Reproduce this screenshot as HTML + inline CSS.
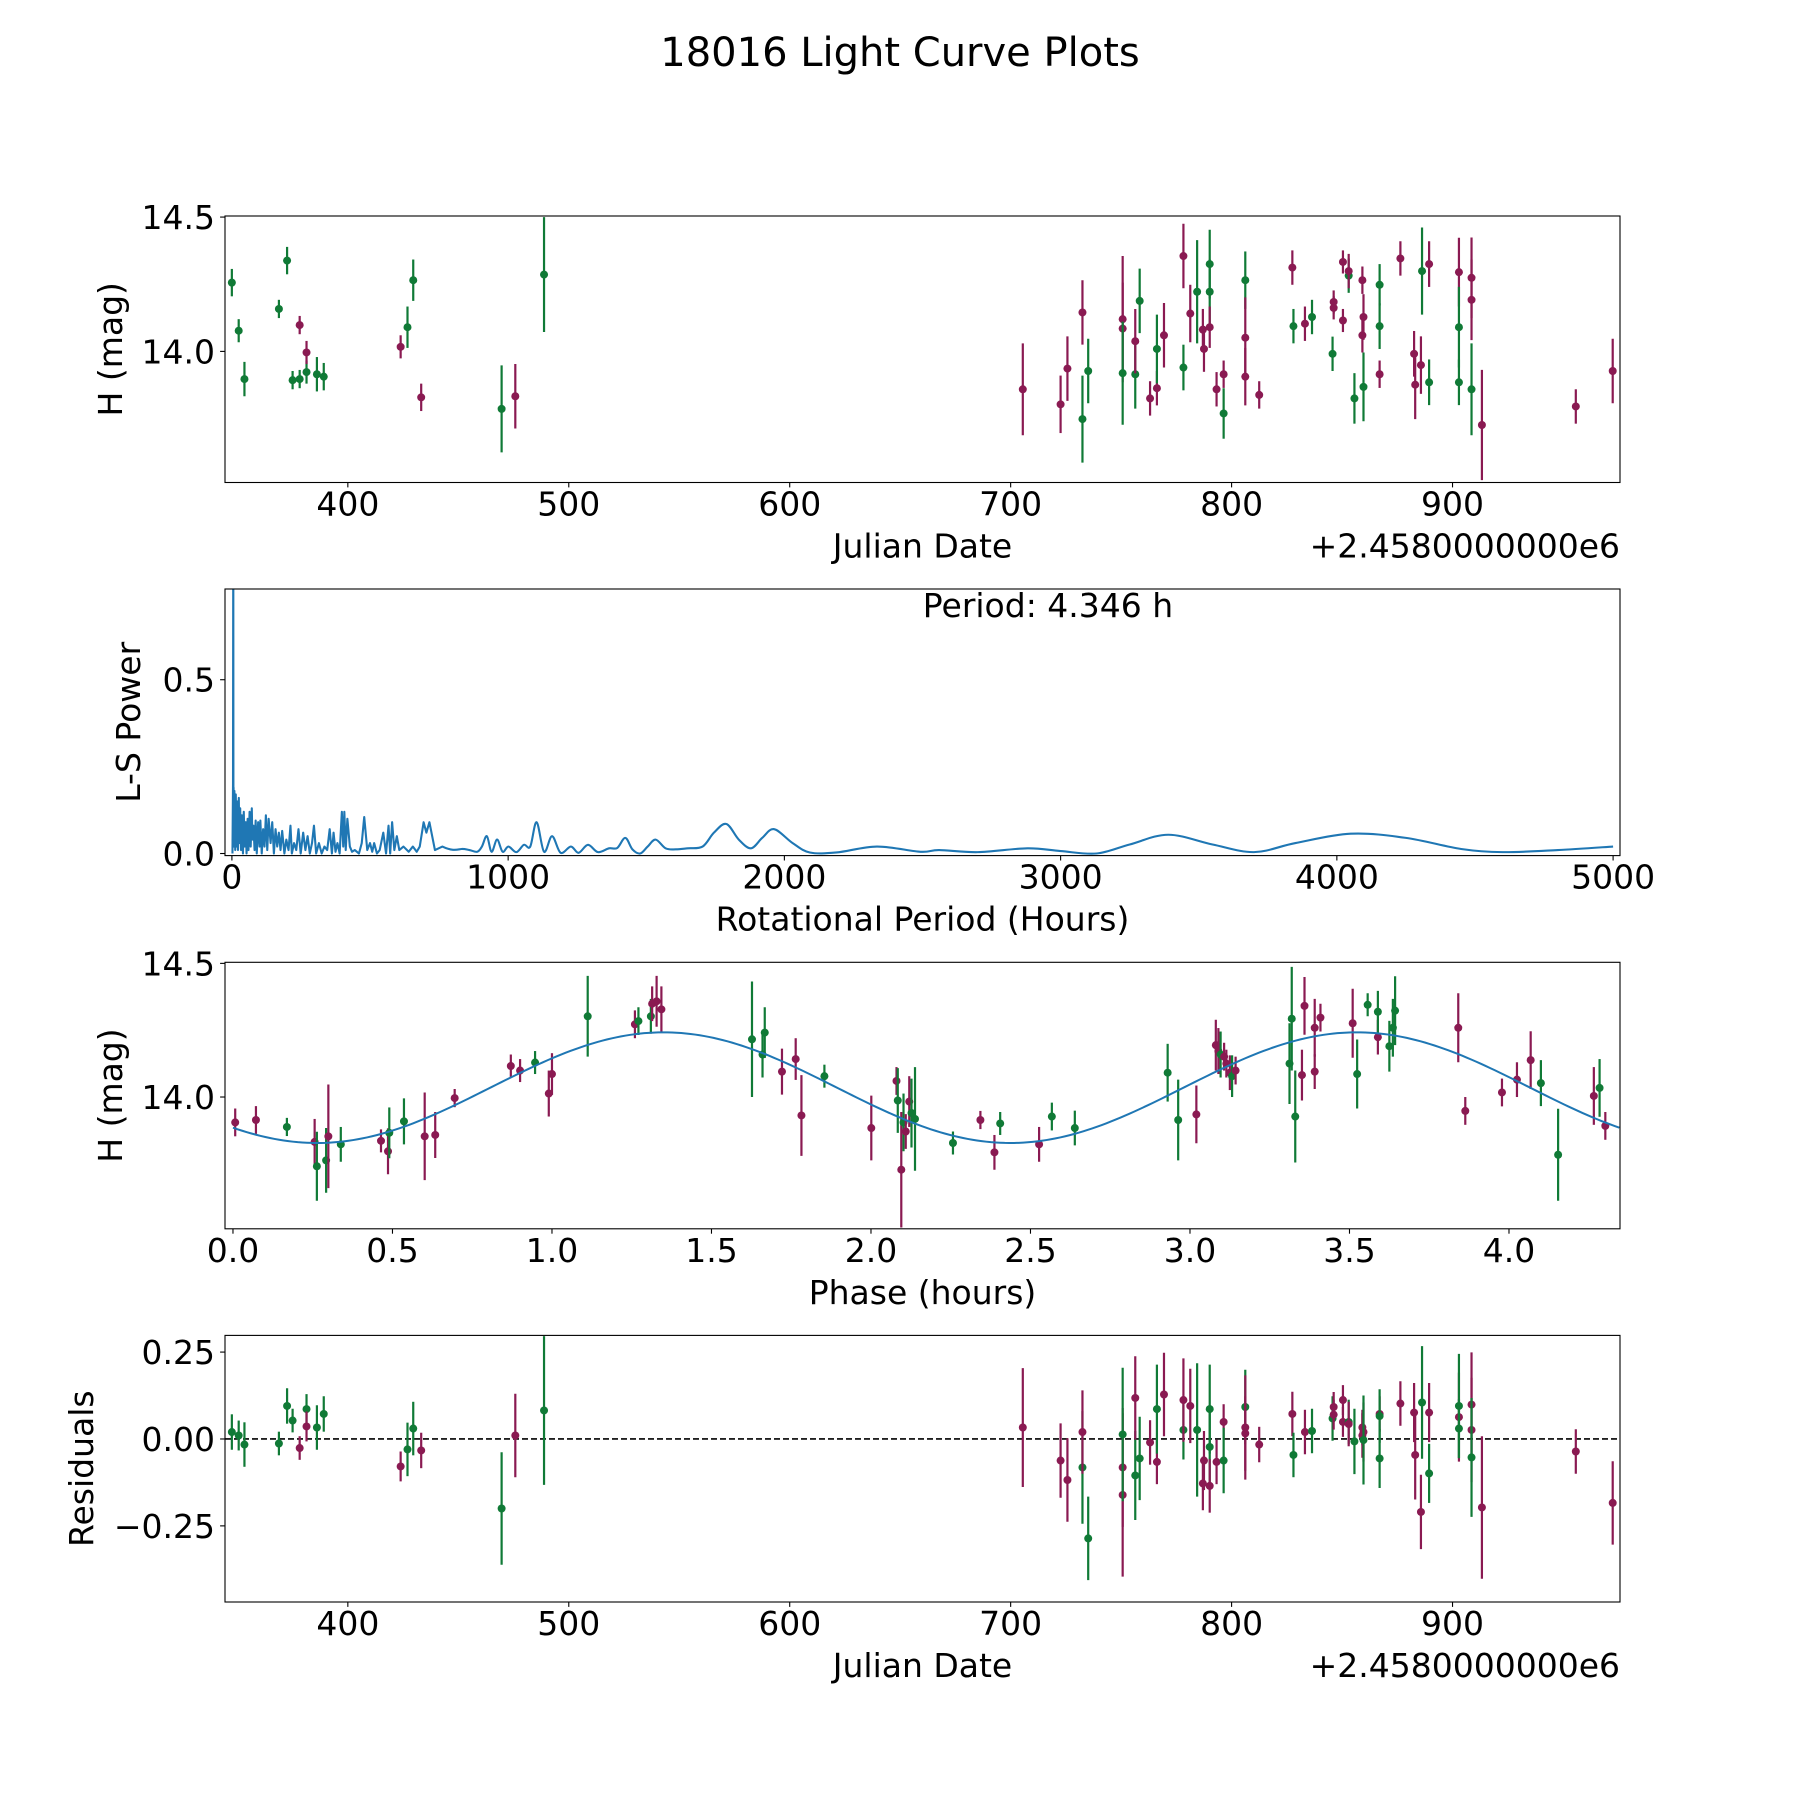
<!DOCTYPE html>
<html><head><meta charset="utf-8"><title>18016 Light Curve Plots</title>
<style>
html,body{margin:0;padding:0;background:#fff;}
svg{display:block;font-family:"DejaVu Sans","Liberation Sans",sans-serif;}
</style></head>
<body>
<svg id="fig" width="1800" height="1800" viewBox="0 0 1800 1800" xmlns="http://www.w3.org/2000/svg">
<rect width="1800" height="1800" fill="#fff"/>
<text x="900" y="66" font-size="40" text-anchor="middle">18016 Light Curve Plots</text>
</svg>
<script>
// ---------- Panel 1 / 4 data (Julian date - 2458000) ----------
const jd = [347.5,350.6,353.2,368.8,372.5,375,378.2,378.2,381.3,381.3,386,389.1,423.9,427,429.6,433.2,469.6,475.8,488.8,
705.5,722.6,725.7,732.5,732.5,735.1,750.7,750.7,750.7,756.4,756.4,758.4,763.1,766.2,766.2,769.4,778.2,778.2,781.3,784.4,787,787.5,
790.1,790.1,790.1,793.2,796.4,796.4,806.2,806.2,806.2,812.5,827.5,828,833.2,836.4,845.7,846.2,846.2,850.4,850.4,853,853,855.6,
859.2,859.2,859.7,859.7,867,867,867,876.4,882.6,883.1,885.7,886.2,889.4,889.4,902.9,902.9,902.9,908.6,908.6,908.6,913.3,955.8,972.5];
const hmag = [14.256,14.077,13.897,14.158,14.338,13.893,14.098,13.897,13.923,13.996,13.915,13.906,14.017,14.09,14.265,13.829,13.786,13.833,14.286,
13.859,13.803,13.936,13.748,14.145,13.927,14.12,14.085,13.919,13.915,14.038,14.188,13.825,13.863,14.009,14.06,13.94,14.355,14.141,14.222,14.081,14.009,
14.325,14.222,14.09,13.859,13.915,13.769,14.265,14.051,13.906,13.838,14.312,14.094,14.103,14.128,13.991,14.162,14.184,14.333,14.115,14.282,14.299,13.825,
14.06,14.265,14.128,13.868,13.915,14.248,14.094,14.346,13.991,13.876,13.949,14.299,14.325,13.885,14.295,14.09,13.885,14.274,14.192,13.859,13.726,13.795,13.927];
const herr = [0.051,0.043,0.064,0.034,0.051,0.034,0.034,0.034,0.043,0.043,0.064,0.051,0.043,0.077,0.077,0.051,0.162,0.12,0.214,
0.171,0.107,0.12,0.162,0.12,0.12,0.235,0.171,0.192,0.128,0.12,0.12,0.064,0.064,0.128,0.12,0.085,0.12,0.107,0.192,0.077,0.085,
0.128,0.12,0.077,0.064,0.051,0.094,0.107,0.15,0.107,0.051,0.064,0.064,0.064,0.064,0.064,0.043,0.043,0.043,0.043,0.064,0.064,0.094,
0.064,0.051,0.085,0.128,0.051,0.077,0.085,0.064,0.085,0.128,0.107,0.162,0.085,0.085,0.128,0.15,0.085,0.15,0.15,0.171,0.205,0.064,0.12];
const hcol = "ggggggmggmggmggmgmg"+"mmmgmgmmggm"+"gmmgmgmmgm"+"mggmmmggmm"+"mmgmggmmmm"+"gmgmmmgmgg"+"mmmmgmgmgg"+"mmgmmm";
const resid = [0.02,0.01,-0.016,-0.013,0.095,0.053,-0.026,0.086,0.036,0.033,0.072,-0.079,-0.03,0.03,-0.033,-0.2,0.01,0.082,
0.033,-0.062,-0.118,-0.082,0.02,-0.286,-0.161,-0.082,0.013,-0.105,0.118,-0.056,-0.01,-0.066,0.086,0.128,0.026,0.112,0.095,0.026,-0.128,-0.062,
0.086,-0.023,-0.135,-0.066,0.049,-0.062,0.092,0.033,0.016,-0.016,0.072,-0.046,0.02,0.023,0.059,0.092,0.07,0.112,0.049,0.049,0.043,-0.007,
0.01,0.033,0.02,-0.003,0.072,0.066,-0.056,0.102,0.076,-0.046,-0.21,0.105,0.076,-0.099,0.063,0.095,0.03,0.099,0.026,-0.053,-0.197,-0.036,-0.184];
const rerr = [0.051,0.043,0.064,0.034,0.051,0.034,0.034,0.043,0.043,0.064,0.051,0.043,0.077,0.077,0.051,0.162,0.12,0.214,
0.171,0.107,0.12,0.162,0.12,0.12,0.235,0.171,0.192,0.128,0.12,0.12,0.064,0.064,0.128,0.12,0.085,0.12,0.107,0.192,0.077,0.085,
0.128,0.12,0.077,0.064,0.051,0.094,0.107,0.15,0.107,0.051,0.064,0.064,0.064,0.064,0.064,0.043,0.043,0.043,0.043,0.064,0.064,0.094,
0.064,0.051,0.085,0.128,0.051,0.077,0.085,0.064,0.085,0.128,0.107,0.162,0.085,0.085,0.128,0.15,0.085,0.15,0.15,0.171,0.205,0.064,0.12];
const rjd = [347.5,350.6,353.2,368.8,372.5,375,378.2,381.3,381.3,386,389.1,423.9,427,429.6,433.2,469.6,475.8,488.8,
705.5,722.6,725.7,732.5,732.5,735.1,750.7,750.7,750.7,756.4,756.4,758.4,763.1,766.2,766.2,769.4,778.2,778.2,781.3,784.4,787,787.5,
790.1,790.1,790.1,793.2,796.4,796.4,806.2,806.2,806.2,812.5,827.5,828,833.2,836.4,845.7,846.2,846.2,850.4,850.4,853,853,855.6,
859.2,859.2,859.7,859.7,867,867,867,876.4,882.6,883.1,885.7,886.2,889.4,889.4,902.9,902.9,902.9,908.6,908.6,908.6,913.3,955.8,972.5];
const rcol = "ggggggmgmggmggmgmg"+"mmmgmgmmggm"+"gmmgmgmmgm"+"mggmmmggmm"+"mmgmggmmmm"+"gmgmmmgmgg"+"mmmmgmgmgg"+"mmgmmm";

// ---------- Panel 2 data (Lomb-Scargle) ----------
const lsPeriod = [2,4,5,5.5,6,7,9,12,14,17,19,22,25,27,30,33,36,40,43,46,50,53,57,60,64,68,72,74,78,82,86,90,95,100,103,108,113,118,123,128,133,140,146,152,158,164,170,176,182,190,197,205,212,217,225,233,241,249,258,266,274,282,290,297,305,315,325,335,345,354,362,368,375,382,390,398,403,407,412,418,427,435,445,460,470,479,490,500,508,515,525,535,548,558,567,573,580,588,597,606,621,640,655,669,680,694,704,715,735,762,790,831,860,888,905,923,940,960,980,1001,1030,1057,1080,1103,1130,1159,1190,1227,1255,1289,1325,1365,1395,1424,1450,1478,1505,1534,1570,1607,1650,1704,1745,1790,1835,1879,1920,1963,2030,2092,2189,2335,2493,2560,2700,2880,3000,3130,3250,3390,3550,3700,3850,4050,4250,4450,4600,4800,5000];
const lsPower = [0,0.2,1.0,0.05,0.19,0.02,0.18,0.01,0.17,0.02,0.15,0.01,0.16,0.03,0.13,0.01,0.11,0.0,0.12,0.02,0.09,0.0,0.1,0.01,0.12,0.02,0.13,0.04,0.08,0.01,0.095,0.0,0.09,0.02,0.095,0.0,0.07,0.02,0.11,0.01,0.1,0.03,0.09,0.0,0.07,0.02,0.06,0.01,0.065,0.0,0.04,0.01,0.08,0.0,0.03,0.01,0.07,0.0,0.06,0.01,0.05,0.0,0.03,0.08,0.0,0.03,0.0,0.02,0.01,0.07,0.0,0.06,0.005,0.03,0.0,0.12,0.02,0.12,0.01,0.10,0.02,0.005,0.01,0.0,0.03,0.105,0.01,0.03,0.005,0.03,0.0,0.01,0.06,0.0,0.08,0.0,0.09,0.01,0.05,0.01,0.02,0.005,0.02,0.005,0.02,0.09,0.06,0.09,0.01,0.02,0.006,0.013,0.01,0.005,0.02,0.05,0.005,0.04,0.005,0.02,0.004,0.025,0.02,0.09,0.005,0.05,0.002,0.02,0.002,0.025,0.004,0.015,0.016,0.045,0.012,0.0,0.02,0.04,0.015,0.012,0.015,0.02,0.06,0.085,0.04,0.015,0.045,0.07,0.03,0.003,0.003,0.02,0.005,0.01,0.004,0.015,0.007,0.0,0.026,0.054,0.026,0.004,0.03,0.057,0.045,0.013,0.004,0.01,0.02];

// ---------- Panel 3 data (phased) ----------
const phase = [0.007,0.072,0.169,0.256,0.263,0.292,0.299,0.338,0.464,0.486,0.49,0.536,0.601,0.634,0.695,0.871,0.9,0.947,0.99,1.0,1.112,1.26,1.271,1.31,1.314,1.328,1.343,1.627,1.66,1.667,1.721,1.764,1.782,1.854,2.001,2.08,2.084,2.095,2.102,2.109,2.12,2.127,2.138,2.257,2.343,2.387,2.405,2.527,2.567,2.639,2.93,2.963,3.02,3.081,3.089,3.096,3.107,3.114,3.125,3.132,3.143,3.312,3.319,3.33,3.351,3.359,3.391,3.391,3.409,3.51,3.524,3.557,3.589,3.589,3.625,3.636,3.643,3.841,3.863,3.978,4.025,4.068,4.1,4.154,4.266,4.284,4.302];
const phmag = [13.905,13.914,13.888,13.832,13.741,13.763,13.853,13.823,13.836,13.797,13.866,13.909,13.853,13.858,13.996,14.116,14.099,14.129,14.013,14.086,14.302,14.272,14.284,14.302,14.349,14.358,14.328,14.216,14.159,14.241,14.095,14.142,13.931,14.078,13.884,14.06,13.987,13.728,13.905,13.871,13.983,13.94,13.918,13.828,13.914,13.793,13.901,13.823,13.927,13.884,14.091,13.914,13.935,14.194,14.172,14.159,14.151,14.125,14.091,14.078,14.099,14.125,14.293,13.927,14.082,14.341,14.259,14.095,14.297,14.276,14.086,14.345,14.224,14.319,14.19,14.259,14.323,14.259,13.948,14.017,14.065,14.138,14.052,13.784,14.004,14.034,13.892];
const pherr = [0.052,0.052,0.034,0.086,0.129,0.121,0.194,0.065,0.043,0.086,0.095,0.086,0.164,0.086,0.034,0.043,0.043,0.043,0.086,0.078,0.151,0.052,0.052,0.065,0.065,0.095,0.086,0.216,0.086,0.095,0.086,0.078,0.151,0.043,0.121,0.052,0.121,0.216,0.108,0.065,0.095,0.129,0.194,0.043,0.034,0.065,0.043,0.065,0.052,0.065,0.108,0.151,0.108,0.095,0.086,0.086,0.052,0.052,0.065,0.078,0.052,0.151,0.194,0.172,0.095,0.108,0.108,0.065,0.052,0.129,0.129,0.043,0.065,0.078,0.095,0.108,0.129,0.129,0.052,0.052,0.065,0.108,0.086,0.172,0.108,0.108,0.052];
const phcol = "mmgmggmgmmggmmmmmgmmgmggmmmgggmmmgmmgmgmmgggmmgmggggmmmgmmmgmgggmmmmmmggmggggmmmmmggmg";
const fitMean = 14.035, fitAmp = 0.207, fitPeak = 1.35, fitPer = 2.173, fitEnd = 4.346;

// ---------- Layout ----------
const X0 = 225, X1 = 1620;
const FS = 33;
const panels = {
  p1:{y0:216,y1:482.5,xmin:344.4,xmax:975.8,ymin:13.512,ymax:14.504},
  p2:{y0:589,y1:855.6,xmin:-25,xmax:5025,ymin:-0.006,ymax:0.761},
  p3:{y0:962.3,y1:1228.8,xmin:-0.025,xmax:4.348,ymin:13.507,ymax:14.504},
  p4:{y0:1335.4,y1:1602,xmin:344.4,xmax:975.8,ymin:-0.469,ymax:0.298}
};
const NS = "http://www.w3.org/2000/svg";
const svg = document.getElementById('fig');
const GREEN = "#107a36", MAG = "#8a1a52", BLUE = "#1f77b4";
function mk(tag, attrs, parent){const e=document.createElementNS(NS,tag);for(const k in attrs)e.setAttribute(k,attrs[k]);(parent||svg).appendChild(e);return e;}
function sx(p,v){return X0+(v-p.xmin)/(p.xmax-p.xmin)*(X1-X0);}
function sy(p,v){return p.y1-(v-p.ymin)/(p.ymax-p.ymin)*(p.y1-p.y0);}

function axes(name,p,xticks,xlabels,yticks,ylabels,xlabel,ylabel,ylabelX,offset){
  const g = mk('g',{});
  
  
  const clipId = 'clip-'+name;
  const cp = mk('clipPath',{id:clipId},g);
  mk('rect',{x:X0,y:p.y0,width:X1-X0,height:p.y1-p.y0},cp);
  const plot = mk('g',{'clip-path':'url(#'+clipId+')'},g);
  
  
  xticks.forEach((t,i)=>{
    const x=sx(p,t);
    mk('line',{x1:x,x2:x,y1:p.y1,y2:p.y1+4.9,stroke:'#000','stroke-width':1.1},g);
    const tx=mk('text',{x:x,y:p.y1+33,'font-size':FS,'text-anchor':'middle'},g);
    tx.textContent=xlabels[i];
    
    
  });
  yticks.forEach((t,i)=>{
    const y=sy(p,t);
    mk('line',{x1:X0-4.9,x2:X0,y1:y,y2:y,stroke:'#000','stroke-width':1.1},g);
    const tx=mk('text',{x:X0-10,y:y+12,'font-size':FS,'text-anchor':'end'},g);
    tx.textContent=ylabels[i];
    
    
  });
  const xl=mk('text',{x:(X0+X1)/2,y:p.y1+75,'font-size':FS,'text-anchor':'middle'},g);
  xl.textContent=xlabel;
  
  
  const cy=(p.y0+p.y1)/2;
  const yl=mk('text',{x:ylabelX,y:cy,'font-size':FS,'text-anchor':'middle',transform:'rotate(-90 '+ylabelX+' '+cy+')'},g);
  yl.textContent=ylabel;
  
  
  if(offset){
    const ot=mk('text',{x:X1,y:p.y1+75,'font-size':FS,'text-anchor':'end'},g);
    ot.textContent=offset;
    
    
  }
  return {g,plot};
}
function frame(g,p){
  const r=mk('rect',{x:X0,y:p.y0,width:X1-X0,height:p.y1-p.y0,fill:'none',stroke:'#000','stroke-width':1.1},g);
  
  
}
function errpoint(plot,p,x,y,e,c){
  const col=c==='g'?GREEN:MAG;
  const X=sx(p,x);
  const ln=mk('line',{x1:X,x2:X,y1:sy(p,y-e),y2:sy(p,y+e),stroke:col,'stroke-width':2.2},plot);
  
  
  const pt=mk('circle',{cx:X,cy:sy(p,y),r:4,fill:col},plot);
  
  
}

// Panel 1
const jdTicks=[400,500,600,700,800,900];
const jdTickLabels=['400','500','600','700','800','900'];
let a=axes('light-curve-panel',panels.p1,jdTicks,jdTickLabels,[14.0,14.5],['14.0','14.5'],'Julian Date','H (mag)',122,'+2.4580000000e6');
for(let i=0;i<jd.length;i++) errpoint(a.plot,panels.p1,jd[i],hmag[i],herr[i],hcol[i]);
frame(a.g,panels.p1);

// Panel 2
const lsTicks=[0,1000,2000,3000,4000,5000];
const lsTickLabels=['0','1000','2000','3000','4000','5000'];
a=axes('periodogram-panel',panels.p2,lsTicks,lsTickLabels,[0,0.5],['0.0','0.5'],'Rotational Period (Hours)','L-S Power',140,null);
{
  const p=panels.p2;
  let d='';
  const pts=lsPeriod.map((v,i)=>[sx(p,v),sy(p,lsPower[i])]);
  let i0=pts.findIndex((q,i)=>lsPeriod[i]>=790);
  for(let i=0;i<i0;i++) d+=(i?'L':'M')+pts[i][0].toFixed(2)+' '+pts[i][1].toFixed(2);
  for(let i=i0;i<pts.length-1;i++){
    const q0=pts[i-1],q1=pts[i],q2=pts[i+1],q3=pts[Math.min(i+2,pts.length-1)];
    const c1=[q1[0]+(q2[0]-q0[0])/6,q1[1]+(q2[1]-q0[1])/6];
    const c2=[q2[0]-(q3[0]-q1[0])/6,q2[1]-(q3[1]-q1[1])/6];
    d+='C'+c1[0].toFixed(2)+' '+c1[1].toFixed(2)+' '+c2[0].toFixed(2)+' '+c2[1].toFixed(2)+' '+q2[0].toFixed(2)+' '+q2[1].toFixed(2);
  }
  const path=mk('path',{d:d,fill:'none',stroke:BLUE,'stroke-width':2.1,'stroke-linejoin':'round'},a.plot);
  
  
  const pt=mk('text',{x:1048,y:617,'font-size':FS,'text-anchor':'middle'},a.g);
  pt.textContent='Period: 4.346 h';
  
  
}
frame(a.g,panels.p2);

// Panel 3
const phTicks=[0,0.5,1,1.5,2,2.5,3,3.5,4];
const phTickLabels=['0.0','0.5','1.0','1.5','2.0','2.5','3.0','3.5','4.0'];
a=axes('phased-panel',panels.p3,phTicks,phTickLabels,[14.0,14.5],['14.0','14.5'],'Phase (hours)','H (mag)',122,null);
for(let i=0;i<phase.length;i++) errpoint(a.plot,panels.p3,phase[i],phmag[i],pherr[i],phcol[i]);
{
  const p=panels.p3;let d='';
  for(let k=0;k<=300;k++){
    const ph=fitEnd*k/300;
    const v=fitMean+fitAmp*Math.cos(2*Math.PI*(ph-fitPeak)/fitPer);
    d+=(k?'L':'M')+sx(p,ph).toFixed(2)+' '+sy(p,v).toFixed(2);
  }
  const path=mk('path',{d:d,fill:'none',stroke:BLUE,'stroke-width':2},a.plot);
  
  
}
frame(a.g,panels.p3);

// Panel 4
a=axes('residuals-panel',panels.p4,jdTicks,jdTickLabels,[-0.25,0,0.25],['\u22120.25','0.00','0.25'],'Julian Date','Residuals',93,'+2.4580000000e6');
{
  const p=panels.p4;
  const zl=mk('line',{x1:X0,x2:X1,y1:sy(p,0),y2:sy(p,0),stroke:'#000','stroke-width':1.6,'stroke-dasharray':'6,3'},a.plot);
  
  
}
for(let i=0;i<rjd.length;i++) errpoint(a.plot,panels.p4,rjd[i],resid[i],rerr[i],rcol[i]);
frame(a.g,panels.p4);
</script>
</body></html>
